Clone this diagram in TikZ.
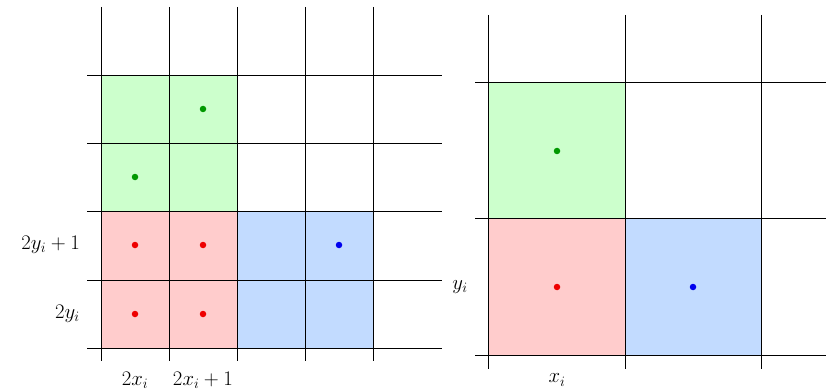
\documentclass[tikz,border=0pt]{standalone}
\definecolor{gfill}{HTML}{CCFFCC}
\definecolor{rfill}{HTML}{FFCCCC}
\definecolor{bfill}{HTML}{C2DBFF}
\definecolor{gdot}{HTML}{009900}
\definecolor{rdot}{HTML}{EE0000}
\definecolor{bdot}{HTML}{0000EE}
\begin{document}
\begin{tikzpicture}[x=1pt,y=-1pt,
  gridline/.style={line width=0.8pt,black},
  dot/.style={circle,inner sep=0pt,minimum size=6.5pt},
  lab/.style={inner sep=0pt,font=\fontsize{20.5}{24}\selectfont}]
\useasboundingbox (0,0) rectangle (826,390);
% left grid fills
\fill[gfill] (101,75) rectangle (237,211);
\fill[rfill] (101,211) rectangle (237,348);
\fill[bfill] (237,211) rectangle (373,348);
\foreach \x in {101,169,237,305,373} \draw[gridline] (\x,7) -- (\x,361);
\foreach \y in {75,143,211,280,348} \draw[gridline] (87,\y) -- (442,\y);
\node[dot,fill=gdot] (g1) at (203,109) {};
\node[dot,fill=gdot] (g2) at (135,177) {};
\node[dot,fill=rdot] (r1) at (135,245) {};
\node[dot,fill=rdot] (r2) at (203,245) {};
\node[dot,fill=rdot] (r3) at (135,314) {};
\node[dot,fill=rdot] (r4) at (203,314) {};
\node[dot,fill=bdot] (b1) at (339,245) {};
\node[lab,anchor=east] (ly1) at (80,245) {$2y_i+1$};
\node[lab,anchor=east] (ly0) at (80,314) {$2y_i$};
\node[lab] (lx0) at (135,380) {$2x_i$};
\node[lab] (lx1) at (203,380) {$2x_i+1$};
% right grid
\fill[gfill] (488,82) rectangle (625,218);
\fill[rfill] (488,218) rectangle (625,355);
\fill[bfill] (625,218) rectangle (761,355);
\foreach \x in {488,625,761} \draw[gridline] (\x,15) -- (\x,369);
\foreach \y in {82,218,355} \draw[gridline] (475,\y) -- (826,\y);
\node[dot,fill=gdot] (G) at (557,151) {};
\node[dot,fill=rdot] (R) at (557,287) {};
\node[dot,fill=bdot] (B) at (693,287) {};
\node[lab] (ly) at (460,287) {$y_i$};
\node[lab] (lx) at (557,380) {$x_i$};
\end{tikzpicture}
\end{document}
